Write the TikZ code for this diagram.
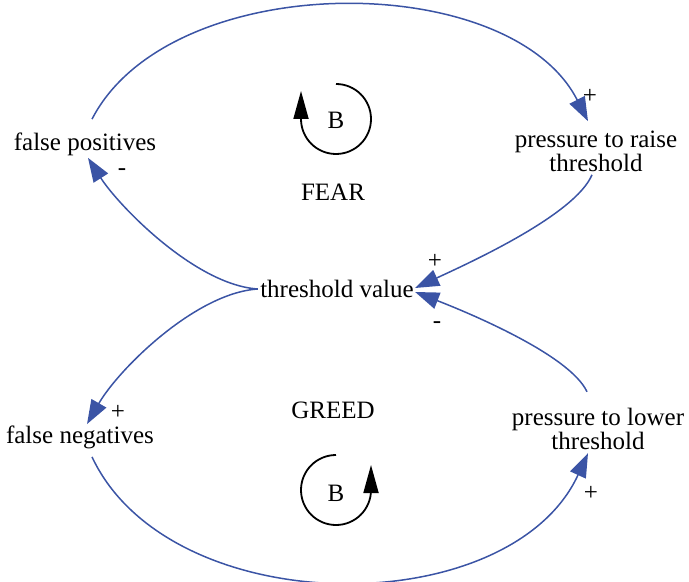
\documentclass[tikz,border=0pt]{standalone}
\usepackage{fontspec}
\setmainfont{Liberation Serif}
\usetikzlibrary{arrows.meta}
\definecolor{linkblue}{RGB}{59,84,165}
\begin{document}
\begin{tikzpicture}[x=0.5pt,y=0.5pt,
    var/.style={inner xsep=1pt,inner ysep=3pt,align=center,font=\fontsize{12.5}{12}\selectfont},
    sign/.style={inner sep=0pt,font=\fontsize{12.5}{12}\selectfont},
    link/.style={draw=linkblue,line width=0.75pt,-{Triangle[length=12pt,width=8.5pt]},fill=none},
    loopline/.style={black,line width=0.9pt,-{Triangle[length=14pt,width=7.5pt]}}]
    \useasboundingbox (0,0) rectangle (689,-582);
    % variables
    \node[var] (fpos) at (85,-144) {false positives};
    \node[var] (praise) at (596,-151) {pressure to raise\\threshold};
    \node[var] (thr) at (337,-289) {threshold value};
    \node[var] (fneg) at (80,-437) {false negatives};
    \node[var] (plower) at (598,-429) {pressure to lower\\threshold};
    % loop names
    \node[var] (fear) at (333,-192) {FEAR};
    \node[var] (greed) at (333,-410) {GREED};
    % links
    \draw[link] ([shift={(7,7)}]fpos.north) .. controls (170,32) and (510,32) .. ([shift={(-8,3)}]praise.north);
    \draw[link] ([shift={(-4,3)}]praise.south) .. controls (575,-215) and (469,-263) .. ([shift={(-1,1)}]thr.east);
    \draw[link] (thr.west) .. controls (195,-285) and (118,-205) .. ([shift={(3,4)}]fpos.south);
    \draw[link] (thr.west) .. controls (195,-293) and (118,-370) .. ([shift={(7,-5)}]fneg.north);
    \draw[link] ([shift={(12,-2)}]fneg.south) .. controls (170,-623) and (510,-623) .. ([shift={(-10,3)}]plower.south);
    \draw[link] ([shift={(-11,10)}]plower.north) .. controls (570,-355) and (469,-313) .. ([shift={(-1,-3)}]thr.east);
    % polarities
    \node[sign] (s1) at (590,-96) {+};
    \node[sign] (s2) at (435,-261) {+};
    \node[sign] (s3) at (122,-172) {-};
    \node[sign] (s4) at (118,-412) {+};
    \node[sign] (s5) at (591,-493) {+};
    \node[sign] (s6) at (437,-325) {-};
    % balancing loops
    \node[sign] (bfear) at (336,-120) {B};
    \draw[loopline] (336,-84) arc (90:-180:35) -- ++(0,28);
    \node[sign] (bgreed) at (336,-493) {B};
    \draw[loopline] (336,-455) arc (90:360:35) -- ++(0,25);
\end{tikzpicture}
\end{document}
